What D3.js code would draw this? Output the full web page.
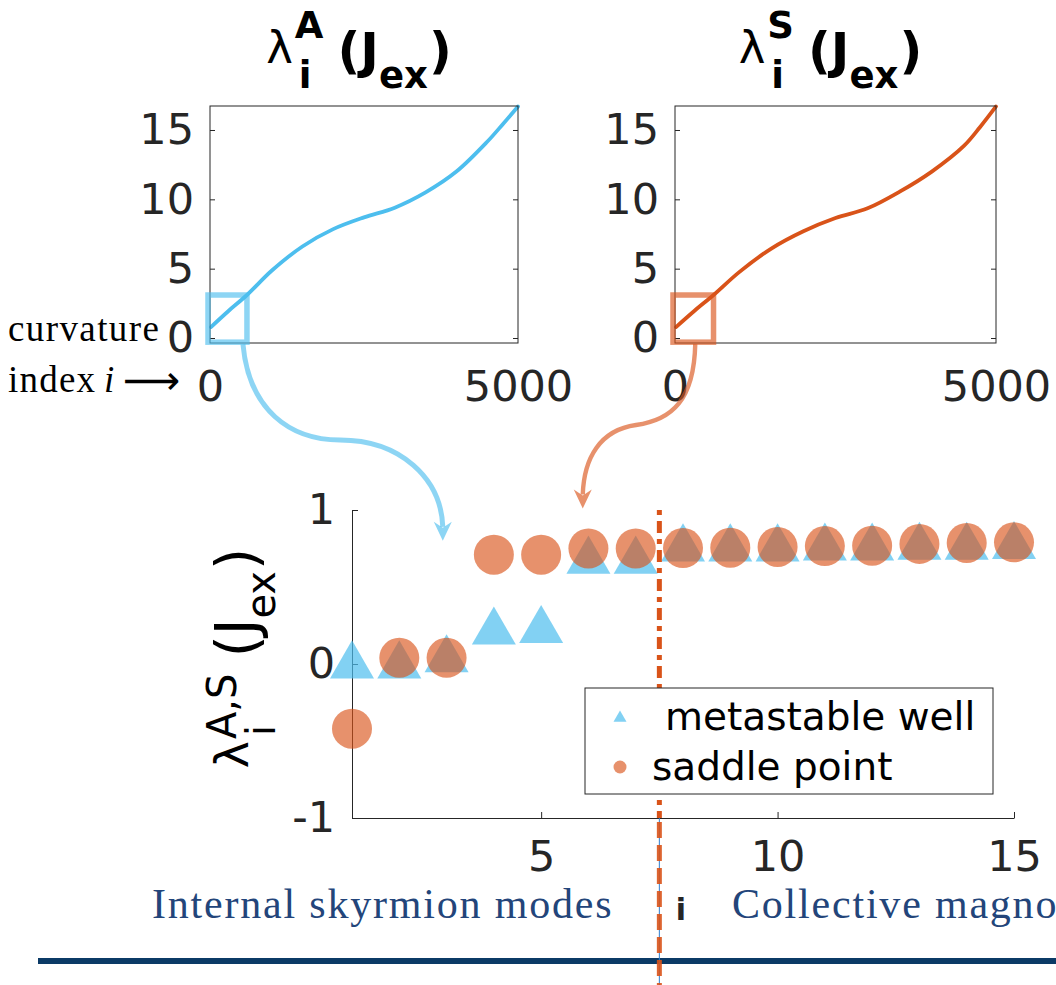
<!DOCTYPE html>
<html>
<head>
<meta charset="utf-8">
<script src="https://cdn.jsdelivr.net/npm/d3@7"></script>
<style>
  body { margin: 0; background: #ffffff; }
  svg { display: block; }
</style>
</head>
<body>
<svg id="fig" width="1056" height="985"></svg>
<script>
// ---- full curvature spectra (top panels) ----
const spectrumIndex  = [15, 300, 600, 1000, 1500, 2000, 2500, 3000, 3500, 4000, 4500, 4750, 5000];
const spectrumWell   = [0.79, 1.95, 3.1, 4.85, 6.6, 7.85, 8.7, 9.4, 10.5, 12.0, 14.15, 15.4, 16.7];
const spectrumSaddle = [0.79, 1.95, 3.1, 4.75, 6.45, 7.7, 8.65, 9.35, 10.55, 12.0, 13.85, 15.2, 16.7];
const spectrumXTicks = [0, 5000];
const spectrumYTicks = [0, 5, 10, 15];
const spectrumXDomain = [0, 5000];
const spectrumYDomain = [-0.36, 16.73];
const zoomWindowX = [0, 600];
const zoomWindowY = [-0.3, 3.1];

// ---- lowest 15 curvature modes (bottom panel) ----
const modeIndex   = [1, 2, 3, 4, 5, 6, 7, 8, 9, 10, 11, 12, 13, 14, 15];
const wellModes   = [0.03, 0.03, 0.07, 0.25, 0.26, 0.71, 0.71, 0.79, 0.79, 0.79, 0.795, 0.795, 0.80, 0.80, 0.805];
const saddleModes = [-0.42, 0.04, 0.04, 0.71, 0.71, 0.75, 0.75, 0.753, 0.755, 0.76, 0.766, 0.768, 0.78, 0.786, 0.79];
const modeXTicks  = [5, 10, 15];
const modeYTicks  = [-1, 0, 1];
const seriesNames = ["metastable well", "saddle point"];
const splitIndex  = 7.5;

const wellColor = "#4DBEEE";
const saddleColor = "#D95319";
const axisColor = "#262626";
const noteColor = "#23457A";
const plainNumber = d => String(d);

const svg = d3.select("#fig");
svg.append("rect").attr("width", 1056).attr("height", 985).attr("fill", "#fff");

// lay out a TeX-like label made of pieces; returns total advance
function layoutMath(g, parts) {
  let x = 0, lastX = 0, lastW = 0;
  parts.forEach(p => {
    const t = g.append("text").text(p.t)
      .attr("font-family", "DejaVu Sans")
      .attr("font-size", p.size)
      .attr("font-weight", p.bold ? "bold" : "normal")
      .attr("fill", "#000")
      .attr("y", p.dy || 0);
    const w = t.node().getComputedTextLength();
    if (p.stack) {
      t.attr("x", lastX + (p.gap || 0));
      lastW = Math.max(lastW, w + (p.gap || 0));
      x = lastX + lastW;
    } else {
      lastX = x + (p.gap || 0);
      t.attr("x", lastX);
      lastW = w;
      x = lastX + w;
    }
  });
  return x;
}

function titleParts(sup) {
  return [
    { t: "λ", size: 45, dy: -5 },
    { t: sup, size: 37, bold: true, dy: -30, gap: 2 },
    { t: "i", size: 37, bold: true, dy: 20, stack: true, gap: 4 },
    { t: "(", size: 50, bold: true, gap: 14 },
    { t: "J", size: 50, bold: true },
    { t: "ex", size: 37, bold: true, dy: 20 },
    { t: ")", size: 50, bold: true, gap: 1 }
  ];
}

function drawSpectrum(x0, x1, values, color, sup) {
  const x = d3.scaleLinear(spectrumXDomain, [x0, x1]);
  const y = d3.scaleLinear(spectrumYDomain, [343, 106]);
  const g = svg.append("g");

  // curve
  const line = d3.line().x(d => x(d[0])).y(d => y(d[1])).curve(d3.curveCatmullRom.alpha(0.5));
  g.append("path")
    .datum(spectrumIndex.map((v, k) => [v, values[k]]))
    .attr("d", line)
    .attr("fill", "none")
    .attr("stroke", color)
    .attr("stroke-width", 3.8)
    .attr("stroke-linecap", "round");

  // box frame
  g.append("rect")
    .attr("x", x0).attr("y", 106)
    .attr("width", x1 - x0).attr("height", 343 - 106)
    .attr("fill", "none").attr("stroke", axisColor).attr("stroke-width", 1);

  const yl = g.append("g").attr("transform", `translate(${x0},0)`)
    .call(d3.axisLeft(y).tickValues(spectrumYTicks).tickFormat(plainNumber)
      .tickSizeInner(-5).tickSizeOuter(0).tickPadding(16));
  const yr = g.append("g").attr("transform", `translate(${x1},0)`)
    .call(d3.axisRight(y).tickValues(spectrumYTicks).tickSizeInner(-5).tickSizeOuter(0).tickFormat(""));
  const xb = g.append("g").attr("transform", "translate(0,343)")
    .call(d3.axisBottom(x).tickValues(spectrumXTicks).tickFormat(plainNumber).tickSize(0).tickPadding(27));
  [yl, yr, xb].forEach(a => {
    a.select(".domain").remove();
    a.selectAll("line").attr("stroke", axisColor);
    a.selectAll("text").attr("font-family", "DejaVu Sans").attr("font-size", 43).attr("fill", axisColor);
  });

  // zoom window around the lowest modes
  g.append("rect")
    .attr("x", x(zoomWindowX[0]) - 2).attr("y", y(zoomWindowY[1]))
    .attr("width", x(zoomWindowX[1]) - x(zoomWindowX[0]) + 2)
    .attr("height", y(zoomWindowY[0]) - y(zoomWindowY[1]))
    .attr("fill", "none").attr("stroke", color).attr("stroke-opacity", 0.64)
    .attr("stroke-width", 5.5);

  // title
  const tg = svg.append("g");
  const w = layoutMath(tg, titleParts(sup));
  tg.attr("transform", `translate(${(x0 + x1) / 2 - 5 - w / 2},68)`);

  return { x, y };
}

const topA = drawSpectrum(210, 518, spectrumWell, wellColor, "A");
const topS = drawSpectrum(675, 996, spectrumSaddle, saddleColor, "S");

// ---- bottom panel ----
const bx = d3.scaleLinear([1, 15], [352, 1014]);
const by = d3.scaleLinear([-1, 1], [818, 510]);
const bottom = svg.append("g");

const ax = bottom.append("g").attr("transform", "translate(0,818)")
  .call(d3.axisBottom(bx).tickValues(modeXTicks).tickFormat(plainNumber)
    .tickSizeInner(-6).tickSizeOuter(0).tickPadding(22));
const ay = bottom.append("g").attr("transform", "translate(352,0)")
  .call(d3.axisLeft(by).tickValues(modeYTicks).tickFormat(plainNumber)
    .tickSizeInner(-6).tickSizeOuter(0).tickPadding(17));
[ax, ay].forEach(a => {
  a.select(".domain").attr("stroke", axisColor);
  a.selectAll("line").attr("stroke", axisColor);
  a.selectAll("text").attr("font-family", "DejaVu Sans").attr("font-size", 43).attr("fill", axisColor);
});

// markers: metastable well (triangles) under saddle point (circles)
const triSize = 44 * 44 * Math.sqrt(3) / 4;
const triH = 44 * Math.sqrt(3) / 2;
bottom.append("g").selectAll("path")
  .data(modeIndex.map((v, k) => [v, wellModes[k]]))
  .join("path")
  .attr("d", d3.symbol(d3.symbolTriangle, triSize))
  .attr("transform", d => `translate(${bx(d[0])},${by(d[1]) + triH / 6})`)
  .attr("fill", wellColor).attr("fill-opacity", 0.7);

bottom.append("g").selectAll("circle")
  .data(modeIndex.map((v, k) => [v, saddleModes[k]]))
  .join("circle")
  .attr("cx", d => bx(d[0])).attr("cy", d => by(d[1])).attr("r", 20)
  .attr("fill", saddleColor).attr("fill-opacity", 0.64);

// x label
bottom.append("text").text("i")
  .attr("x", bx(8) - 2).attr("y", 920)
  .attr("text-anchor", "middle")
  .attr("font-family", "DejaVu Sans").attr("font-weight", "bold")
  .attr("font-size", 30).attr("fill", axisColor);

// rotated y label
const ylg = svg.append("g").attr("transform", "translate(256,658) rotate(-90)");
const ylInner = ylg.append("g");
const ylw = layoutMath(ylInner, [
  { t: "λ", size: 46, dy: -8 },
  { t: "A,S", size: 40, dy: -20, gap: 2 },
  { t: "i", size: 40, dy: 19, stack: true, gap: 3 },
  { t: "(", size: 57, gap: 16 },
  { t: "J", size: 57 },
  { t: "ex", size: 40, dy: 19 },
  { t: ")", size: 57, gap: 1 }
]);
ylInner.attr("transform", `translate(${-ylw / 2},0)`);

// footer rule
svg.append("line")
  .attr("x1", 38).attr("x2", 1056).attr("y1", 961).attr("y2", 961)
  .attr("stroke", "#0B3A66").attr("stroke-width", 6);

// separator between internal and collective modes
const sx = bx(splitIndex);
svg.append("line")
  .attr("x1", sx).attr("x2", sx).attr("y1", by(1)).attr("y2", 818)
  .attr("stroke", saddleColor).attr("stroke-width", 5)
  .attr("stroke-dasharray", "5,6,12,6");
svg.append("line")
  .attr("x1", sx).attr("x2", sx).attr("y1", 818).attr("y2", 985)
  .attr("stroke", "#2F7FD0").attr("stroke-width", 1);
svg.append("line")
  .attr("x1", sx).attr("x2", sx).attr("y1", 822).attr("y2", 985)
  .attr("stroke", saddleColor).attr("stroke-width", 5).attr("stroke-opacity", 0.9)
  .attr("stroke-dasharray", "16,7");

// legend
const lg = svg.append("g");
lg.append("rect").attr("x", 585).attr("y", 688).attr("width", 408).attr("height", 106)
  .attr("fill", "#fff").attr("stroke", axisColor).attr("stroke-width", 1);
lg.append("path")
  .attr("d", d3.symbol(d3.symbolTriangle, 13 * 13 * Math.sqrt(3) / 4))
  .attr("transform", "translate(620,718)")
  .attr("fill", wellColor).attr("fill-opacity", 0.7);
lg.append("circle").attr("cx", 620).attr("cy", 767).attr("r", 6.5)
  .attr("fill", saddleColor).attr("fill-opacity", 0.64);
lg.append("text").text(seriesNames[0]).attr("x", 665).attr("y", 730)
  .attr("font-family", "DejaVu Sans").attr("font-size", 39).attr("fill", "#000");
lg.append("text").text(seriesNames[1]).attr("x", 652).attr("y", 780)
  .attr("font-family", "DejaVu Sans").attr("font-size", 39).attr("fill", "#000");

// connectors from zoom windows to the bottom panel
function connector(start, tip, c1, c2, mid, c3, c4, color, width) {
  const end = [tip[0], tip[1] - 14];
  const p = d3.path();
  p.moveTo(start[0], start[1]);
  p.bezierCurveTo(c1[0], c1[1], c2[0], c2[1], mid[0], mid[1]);
  p.bezierCurveTo(c3[0], c3[1], c4[0], c4[1], end[0], end[1]);
  svg.append("path").attr("d", p.toString())
    .attr("fill", "none").attr("stroke", color).attr("stroke-opacity", 0.64)
    .attr("stroke-width", width);
  const h = d3.path();
  h.moveTo(tip[0], tip[1]);
  h.lineTo(tip[0] - 9, tip[1] - 19);
  h.lineTo(tip[0], tip[1] - 13);
  h.lineTo(tip[0] + 9, tip[1] - 19);
  h.closePath();
  svg.append("path").attr("d", h.toString()).attr("fill", color).attr("fill-opacity", 0.64);
}
const aStart = [topA.x(zoomWindowX[1]) - 4, topA.y(zoomWindowY[0]) + 2];
const aTip = [bx(2.92), by(0.8)];
connector(aStart, aTip, [aStart[0] + 6, 410], [290, 440], [340, 440], [400, 440], [441, 478], wellColor, 5);
const sStart = [(topS.x(zoomWindowX[0]) + topS.x(zoomWindowX[1])) / 2 + 1, topS.y(zoomWindowY[0]) + 2];
const sTip = [bx(5.88), by(1.01)];
connector(sStart, sTip, [694, 400], [672, 420], [636, 425], [600, 430], [584, 458], saddleColor, 4.4);

// side notes
const serif = "Liberation Serif";
svg.append("text").text("curvature").attr("x", 8).attr("y", 341)
  .attr("font-family", serif).attr("font-size", 37).attr("letter-spacing", 1.4).attr("fill", "#000");
svg.append("text").text("index").attr("x", 8).attr("y", 392)
  .attr("font-family", serif).attr("font-size", 37).attr("letter-spacing", 1.2).attr("fill", "#000");
svg.append("text").text("i").attr("x", 104).attr("y", 392)
  .attr("font-family", serif).attr("font-style", "italic").attr("font-size", 37).attr("fill", "#000");
svg.append("text").text("⟶").attr("x", 123).attr("y", 394)
  .attr("font-family", "DejaVu Sans").attr("font-size", 40).attr("fill", "#000");

svg.append("text").text("Internal skyrmion modes").attr("x", 152).attr("y", 918)
  .attr("font-family", serif).attr("font-size", 42).attr("letter-spacing", 1.8).attr("fill", noteColor);
svg.append("text").text("Collective magnon modes").attr("x", 732).attr("y", 918)
  .attr("font-family", serif).attr("font-size", 42).attr("letter-spacing", 1.8).attr("fill", noteColor);
</script>
</body>
</html>
